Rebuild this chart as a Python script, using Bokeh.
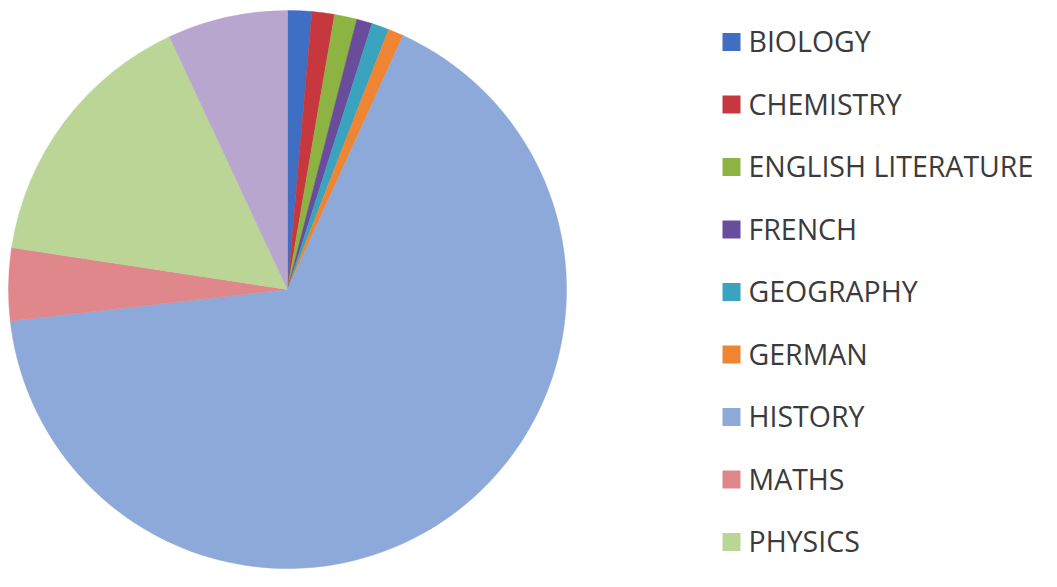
import math
from bokeh.plotting import figure
from bokeh.models import Range1d, ColumnDataSource
from bokeh.embed import file_html
from bokeh.resources import INLINE
from bokeh.core.properties import value

# ---- data ----
subjects = ["BIOLOGY", "CHEMISTRY", "ENGLISH LITERATURE", "FRENCH", "GEOGRAPHY",
            "GERMAN", "HISTORY", "MATHS", "PHYSICS", "PSYCHOLOGY"]
shares = [1.4, 1.3, 1.3, 0.9, 1.0, 0.9, 66.4, 4.2, 15.65, 6.95]
colors = ["#3F6FC2", "#C6383E", "#8DB443", "#6A4C9C", "#3AA3BE", "#EF8532",
          "#8DA9D9", "#E0878B", "#BAD596", "#B8A6CF"]
legend_count = 9  # only nine entries are visible in the legend

# ---- layout (pixels) ----
W, H = 1041, 571
cx, cy, R = 287, H - 289, 279

p = figure(width=W, height=H, x_range=Range1d(0, W), y_range=Range1d(0, H),
           output_backend="svg", toolbar_location=None, min_border=0)
p.xaxis.visible = False
p.yaxis.visible = False
p.grid.visible = False
p.outline_line_color = None
p.background_fill_color = "white"
p.border_fill_color = "white"

total = sum(shares)
starts, ends = [], []
acc = 0.0
for s in shares:
    a0 = acc / total
    acc += s
    a1 = acc / total
    # clockwise from 12 o'clock
    starts.append(math.pi / 2 - 2 * math.pi * a1)
    ends.append(math.pi / 2 - 2 * math.pi * a0)

src = ColumnDataSource(dict(subject=subjects, share=shares, color=colors,
                            start=starts, end=ends,
                            x=[cx] * len(shares), y=[cy] * len(shares)))
p.wedge(x="x", y="y", radius=R, start_angle="start", end_angle="end",
        fill_color="color", line_color="color", line_width=0.5, source=src)

# ---- legend (manual) ----
step = 62.5
lx_sq, lx_txt = 731, 748
sq_y = [H - (41.5 + step * i) for i in range(legend_count)]
tx_y = [H - (40.5 + step * i) for i in range(legend_count)]
p.rect(x=[lx_sq] * legend_count, y=sq_y, width=18, height=18,
       fill_color=colors[:legend_count], line_color=None)
p.text(x=[lx_txt] * legend_count, y=tx_y, text=subjects[:legend_count],
       text_font=value("Open Sans"), text_font_size="28.5px",
       text_color="#3b3b3b", text_baseline="alphabetic", text_align="left")

open("out.html", "w").write(file_html(p, INLINE))
